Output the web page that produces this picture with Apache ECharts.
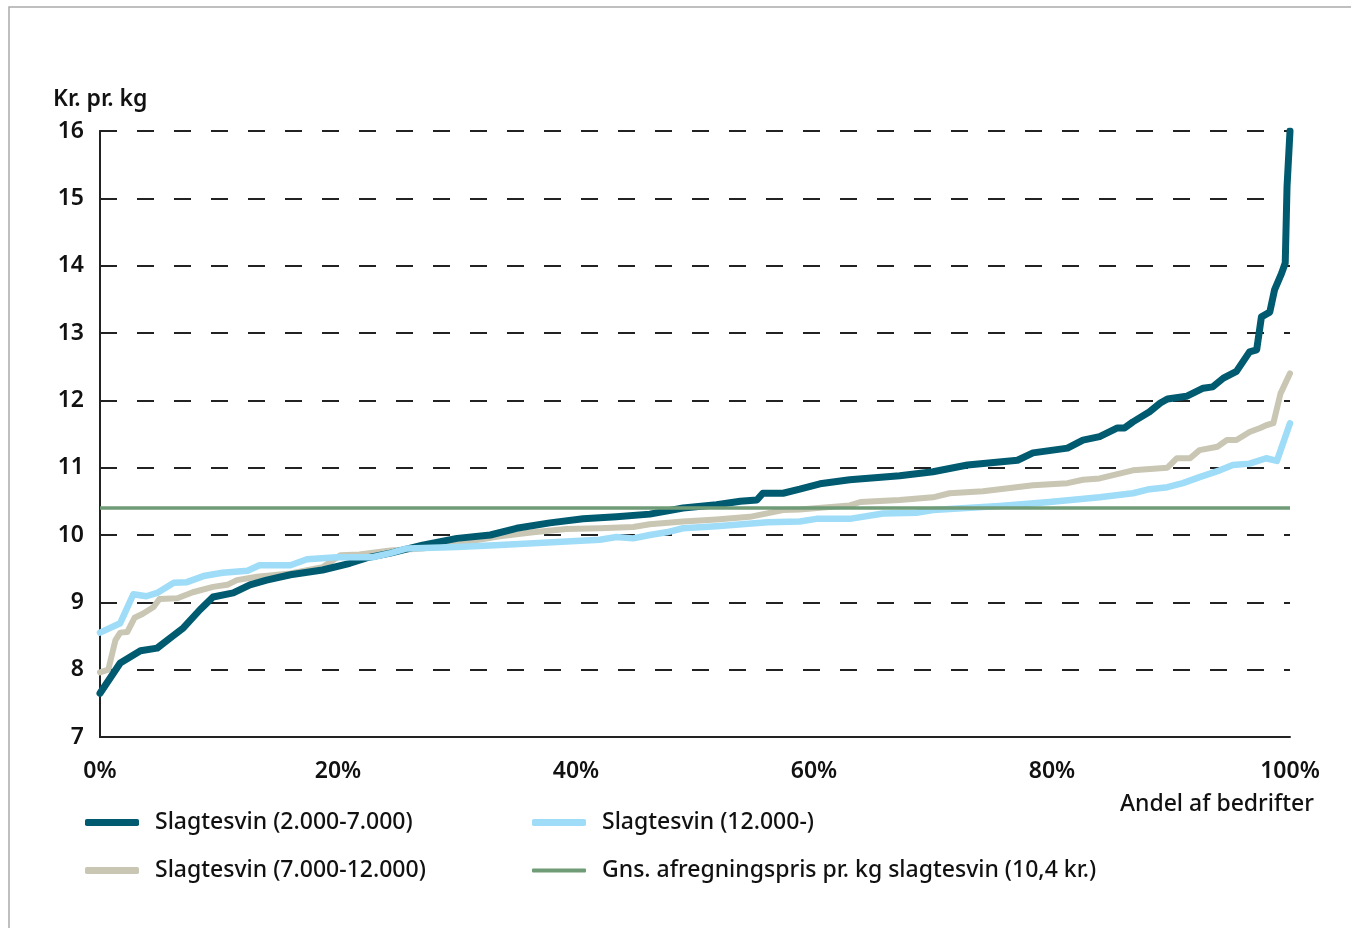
<!DOCTYPE html>
<html><head><meta charset="utf-8">
<script src="https://cdn.jsdelivr.net/npm/echarts@6/dist/echarts.min.js"></script>
<style>html,body{margin:0;padding:0;background:#fff}#c{width:1351px;height:928px}</style>
</head><body><div id="c"></div>
<script>
const xTicks = [0, 20, 40, 60, 80, 100];
const yTicks = [7, 8, 9, 10, 11, 12, 13, 14, 15, 16];
const seriesNames = ['Slagtesvin (2.000-7.000)', 'Slagtesvin (12.000-)', 'Slagtesvin (7.000-12.000)', 'Gns. afregningspris pr. kg slagtesvin (10,4 kr.)'];

const smallX = [0,1.7,3.4,4.8,5.9,7.0,8.4,9.5,11.2,12.6,14.0,16.0,18.7,21.0,22.4,24.4,27.1,30.0,32.8,35.0,37.8,40.6,43.4,46.2,49.0,51.8,53.8,55.2,55.7,57.4,58.8,60.5,63.0,67.2,70.0,72.9,77.1,78.4,81.3,82.6,84.0,85.5,86.1,86.8,88.2,89.1,89.7,91.3,92.7,93.5,94.4,95.5,96.6,97.2,97.6,98.3,98.7,99.3,99.6,99.75,100];
const smallY = [7.65,8.1,8.28,8.32,8.47,8.62,8.89,9.08,9.14,9.26,9.33,9.41,9.48,9.58,9.66,9.73,9.85,9.95,10.0,10.1,10.18,10.24,10.27,10.31,10.4,10.45,10.5,10.52,10.62,10.62,10.68,10.76,10.82,10.88,10.94,11.04,11.11,11.22,11.29,11.41,11.46,11.59,11.59,11.68,11.83,11.96,12.02,12.06,12.18,12.2,12.33,12.43,12.72,12.75,13.24,13.31,13.64,13.89,14.04,15.17,16.0];

const midX = [0,0.7,1.3,1.7,2.3,2.9,3.6,4.5,5.0,6.5,7.8,9.5,10.7,11.5,13.2,16.0,18.7,20.2,21.8,24.4,27.1,30.8,33.6,36.4,39.2,42.0,44.8,46.2,49.0,51.8,54.6,57.4,58.8,63.0,63.9,67.2,70.0,71.4,74.2,78.4,81.3,82.6,84.0,86.8,89.7,90.5,91.6,92.4,93.9,94.7,95.5,96.6,97.5,98.0,98.6,99.2,100];
const midY = [7.96,8.0,8.44,8.55,8.56,8.77,8.83,8.93,9.05,9.06,9.15,9.23,9.26,9.33,9.38,9.43,9.52,9.7,9.71,9.77,9.8,9.9,9.98,10.04,10.09,10.1,10.12,10.16,10.2,10.23,10.27,10.37,10.38,10.44,10.49,10.52,10.56,10.62,10.65,10.74,10.77,10.82,10.84,10.96,11.0,11.14,11.14,11.26,11.31,11.41,11.41,11.53,11.59,11.63,11.66,12.1,12.4];

const largeX = [0,1.7,2.8,3.9,4.8,6.2,7.3,8.7,10.3,12.4,13.4,16.0,17.4,19.9,22.9,24.4,25.8,30.0,33.6,42.0,43.4,44.8,46.2,47.6,49.0,51.8,56.1,58.8,60.2,63.0,65.8,68.6,70.0,75.6,79.8,84.0,86.8,88.2,89.7,91.0,92.4,94.1,95.2,96.6,98.0,98.9,100];
const largeY = [8.55,8.69,9.12,9.09,9.14,9.29,9.3,9.39,9.44,9.47,9.55,9.55,9.64,9.67,9.67,9.73,9.8,9.82,9.85,9.93,9.97,9.95,10.0,10.04,10.1,10.13,10.19,10.2,10.24,10.24,10.32,10.33,10.37,10.43,10.49,10.56,10.62,10.68,10.71,10.77,10.86,10.96,11.04,11.06,11.14,11.1,11.66];

const avgX = [0, 100];
const avgY = [10.4, 10.4];

const pairs = (xs, ys) => xs.map((x, i) => [x, ys[i]]);
const colors = ['#005b70', '#9edcf7', '#c9c6b4', '#6f9b76'];
const FONT = 'Noto Sans';

const chart = echarts.init(document.getElementById('c'));
const legendBase = (name, left, top, h) => ({
  data: [name], left: left, top: top, orient: 'horizontal', padding: 0,
  icon: 'roundRect', itemWidth: 54, itemHeight: h,
  textStyle: { fontFamily: FONT, fontSize: 23, fontWeight: 500, color: '#111', padding: [0, 0, 0, 11] },
  selectedMode: false
});
chart.setOption({
  animation: false,
  backgroundColor: '#fff',
  textStyle: { fontFamily: FONT },
  graphic: [
    { type: 'rect', shape: { x: 9, y: 7, width: 1400, height: 1000 }, style: { fill: 'none', stroke: '#aaaaaa', lineWidth: 1.5 }, silent: true },
    { type: 'text', left: 53, top: 88, style: { text: 'Kr. pr. kg', font: '600 23px "Noto Sans"', fill: '#111' } },
    { type: 'text', right: 37, top: 793, style: { text: 'Andel af bedrifter', font: '500 23px "Noto Sans"', fill: '#111' } }
  ],
  legend: [
    legendBase(seriesNames[0], 85, 811, 7),
    legendBase(seriesNames[1], 532, 811, 7),
    legendBase(seriesNames[2], 85, 859, 7),
    legendBase(seriesNames[3], 532, 859, 4)
  ],
  grid: { left: 100, right: 61, top: 131, bottom: 191 },
  xAxis: {
    type: 'value', min: 0, max: 100, interval: 20,
    axisLine: { show: true, lineStyle: { color: '#222', width: 2 } },
    axisTick: { show: false },
    splitLine: { show: false },
    axisLabel: { formatter: '{value}%', fontFamily: FONT, fontSize: 23, fontWeight: 600, color: '#111', margin: 23 }
  },
  yAxis: [{
    type: 'value', min: 7, max: 16, interval: 1,
    axisLine: { show: true, onZero: false, lineStyle: { color: '#222', width: 2 } },
    axisTick: { show: false },
    splitLine: { show: true, lineStyle: { color: '#222', width: 2, type: [17, 20] } },
    axisLabel: { fontFamily: FONT, fontSize: 23, fontWeight: 600, color: '#111', margin: 16,
      formatter: v => (yTicks.indexOf(v) >= 0 ? String(v) : '') }
  }, {
    type: 'value', min: 7, max: 16, interval: 1, position: 'right',
    axisLine: { show: true, lineStyle: { color: '#222', width: 2 } },
    axisTick: { show: false }, axisLabel: { show: false }, splitLine: { show: false }
  }],
  series: [
    { name: seriesNames[2], type: 'line', data: pairs(midX, midY), showSymbol: false, color: colors[2],
      lineStyle: { width: 6, color: colors[2], join: 'round', cap: 'round' }, z: 2 },
    { name: seriesNames[0], type: 'line', data: pairs(smallX, smallY), showSymbol: false, color: colors[0],
      lineStyle: { width: 7, color: colors[0], join: 'round', cap: 'round' }, z: 3 },
    { name: seriesNames[1], type: 'line', data: pairs(largeX, largeY), showSymbol: false, color: colors[1],
      lineStyle: { width: 6.5, color: colors[1], join: 'round', cap: 'round' }, z: 4 },
    { name: seriesNames[3], type: 'line', data: pairs(avgX, avgY), showSymbol: false, color: colors[3],
      lineStyle: { width: 3.5, color: colors[3] }, z: 5 }
  ]
});
</script></body></html>
